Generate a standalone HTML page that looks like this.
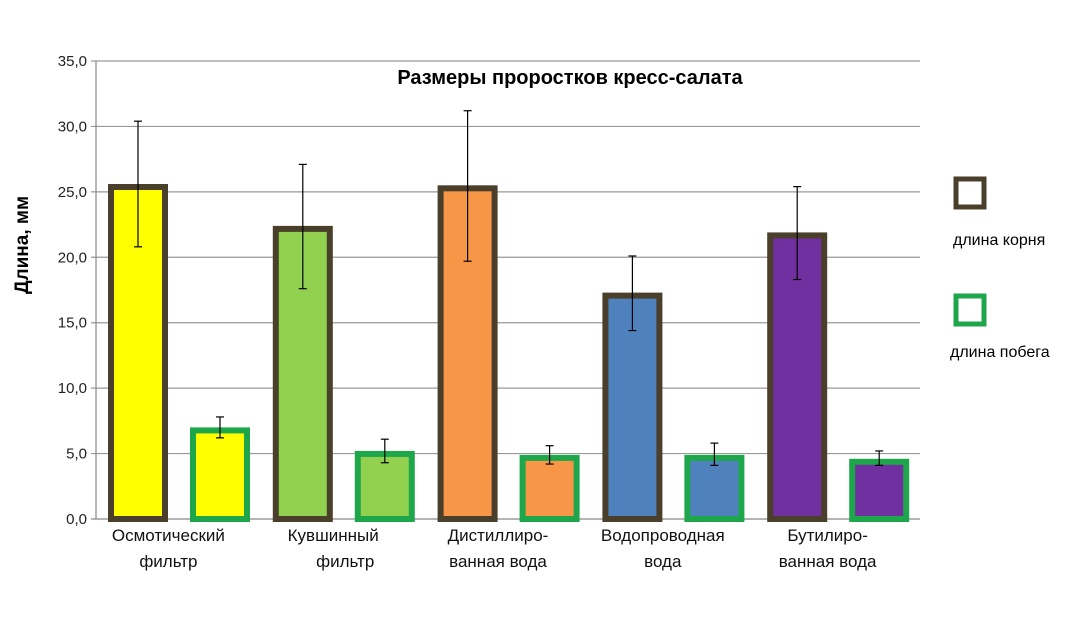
<!DOCTYPE html>
<html><head><meta charset="utf-8"><style>
body{margin:0;background:#fff;}
svg text{font-family:"Liberation Sans","DejaVu Sans",sans-serif;}
</style></head><body>
<svg id="chart" width="1080" height="631" xmlns="http://www.w3.org/2000/svg">
<rect width="1080" height="631" fill="#fff"/>
<g id="grid"></g><g id="bars"></g><g id="errs"></g><g id="labels"></g>
<text x="570" y="84" font-size="20" font-weight="bold" text-anchor="middle" fill="#000">Размеры проростков кресс-салата</text>
<text transform="translate(28,245) rotate(-90)" font-size="19" font-weight="bold" text-anchor="middle">Длина, мм</text>
<rect x="956" y="179" width="28" height="28" fill="none" stroke="#4a3f2a" stroke-width="5"/>
<text x="953" y="245" font-size="16">длина корня</text>
<rect x="956" y="296" width="28" height="28" fill="none" stroke="#1ea64b" stroke-width="5"/>
<text x="950" y="357" font-size="16">длина побега</text>
</svg>
<script>
const categories=[["Осмотический","фильтр"],["Кувшинный","фильтр"],["Дистилиро-","ванная вода"],["Водопроводная","вода"],["Бутилиро-","ванная вода"]];
categories[2][0]="Дистиллиро-";
const fills=["#ffff00","#92d050","#f79646","#4f81bd","#7030a0"];
const rootVals=[25.6,22.4,25.5,17.3,21.9];
const rootHi=[30.4,27.1,31.2,20.1,25.4];
const rootLo=[20.8,17.6,19.7,14.4,18.3];
const shootVals=[7.0,5.2,4.9,4.9,4.6];
const shootHi=[7.8,6.1,5.6,5.8,5.2];
const shootLo=[6.2,4.3,4.2,4.1,4.1];
const yTicks=[0,5,10,15,20,25,30,35];
const NS="http://www.w3.org/2000/svg";
const x0=96,x1=920,yB=519,yT=61,yMax=35;
const y=v=>yB-(yB-yT)*v/yMax;
const bw=(x1-x0)/categories.length;
function mk(tag,attrs,parent){const e=document.createElementNS(NS,tag);for(const k in attrs)e.setAttribute(k,attrs[k]);document.getElementById(parent).appendChild(e);return e;}
yTicks.forEach(t=>{
 const l=mk('line',{x1:x0-5,x2:x1,y1:y(t),y2:y(t),stroke:t===0?'#888':'#999','stroke-width':1.2},'grid');
 
 
 const tx=mk('text',{x:x0-9,y:y(t)+5,'font-size':15,'text-anchor':'end',fill:'#222'},'grid');
 tx.textContent=t.toFixed(1).replace('.',',');
 
 
});
const ax=mk('line',{x1:x0,x2:x0,y1:yT,y2:yB,stroke:'#888','stroke-width':1.2},'grid');


function err(cx,hi,lo){
 const g=mk('g',{stroke:'#000','stroke-width':1.2},'errs');
 
 
 [[cx,y(hi),cx,y(lo)],[cx-4,y(hi),cx+4,y(hi)],[cx-4,y(lo),cx+4,y(lo)]].forEach(a=>{const l=document.createElementNS(NS,'line');l.setAttribute('x1',a[0]);l.setAttribute('y1',a[1]);l.setAttribute('x2',a[2]);l.setAttribute('y2',a[3]);g.appendChild(l);});
}
categories.forEach((c,i)=>{
 const gx=x0+i*bw;
 const rx=gx+12,sx=gx+94,w=60,s=6;
 const r=mk('rect',{x:rx+s/2,y:y(rootVals[i])+s/2,width:w-s,height:yB-y(rootVals[i])-s/2,fill:fills[i],stroke:'#4a3f2a','stroke-width':s},'bars');
 
 
 const b=mk('rect',{x:sx+s/2,y:y(shootVals[i])+s/2,width:w-s,height:yB-y(shootVals[i])-s/2,fill:fills[i],stroke:'#1ea64b','stroke-width':s},'bars');
 
 
 err(rx+w/2,rootHi[i],rootLo[i]);
 err(sx+w/2,shootHi[i],shootLo[i]);
 const cx=gx+bw/2-10;
 c.forEach((line,j)=>{
  const t=mk('text',{x:cx+(j===1&&i<2?(i===1?12:0):0),y:541+j*26,'font-size':17,'text-anchor':'middle',fill:'#111'},'labels');
  t.textContent=line;
  
  
 });
});
</script>
</body></html>
